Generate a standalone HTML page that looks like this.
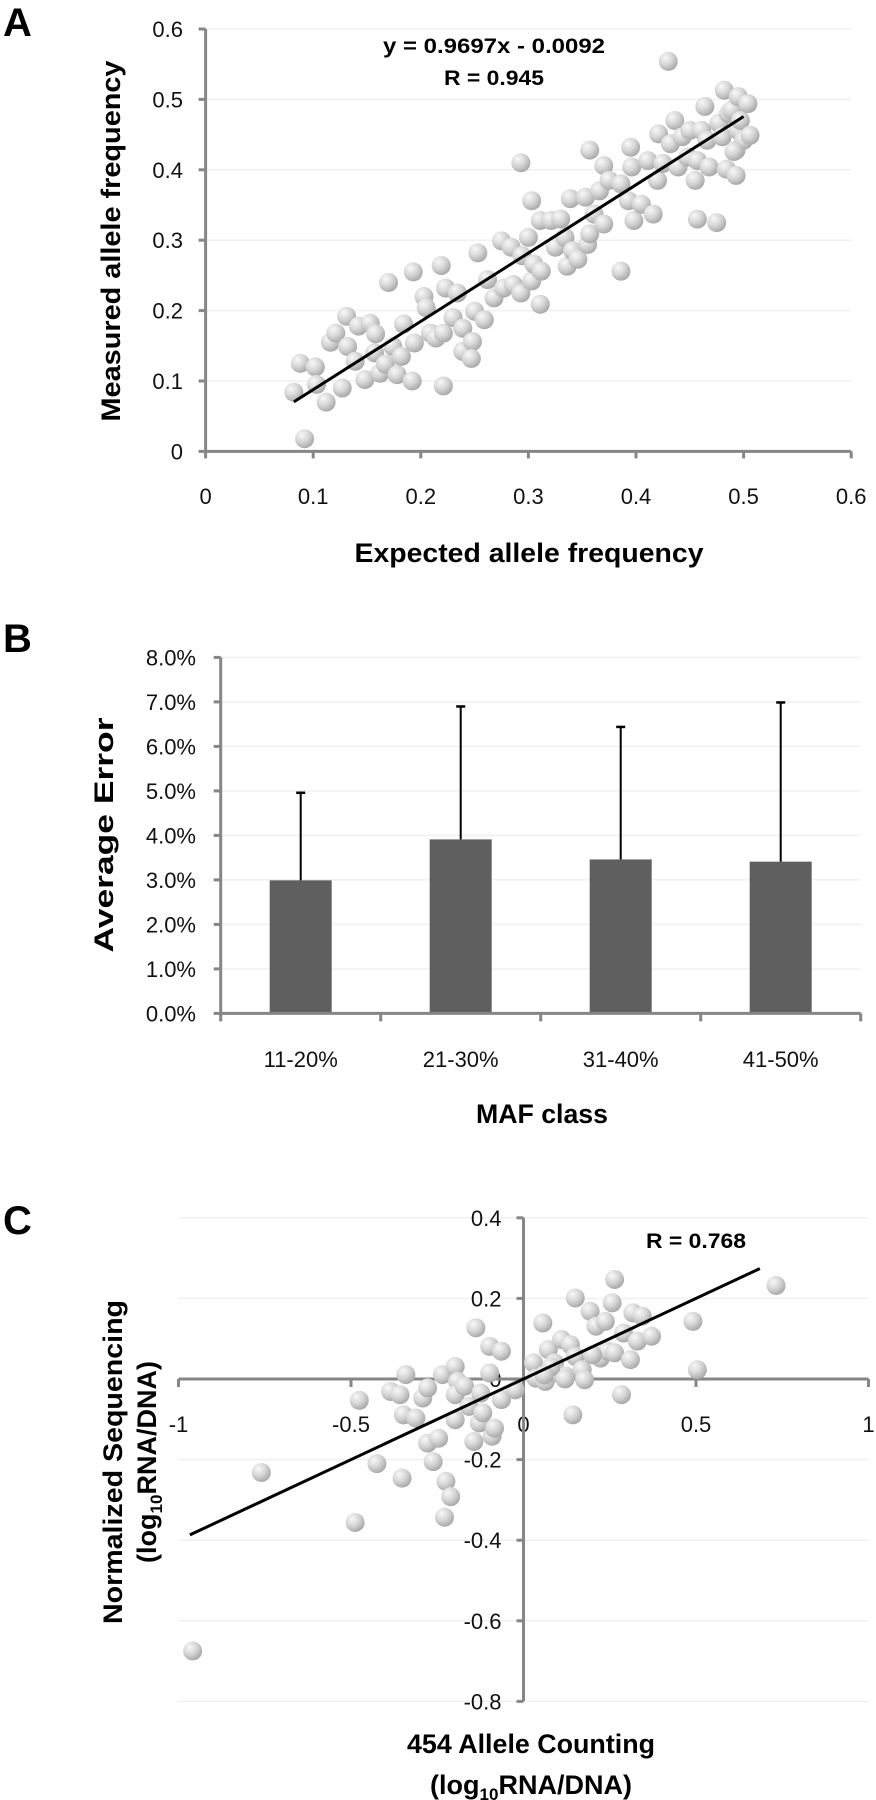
<!DOCTYPE html>
<html><head><meta charset="utf-8"><style>
html,body{margin:0;padding:0;background:#fff;}
svg{display:block;}
text{font-family:"Liberation Sans",sans-serif;}
</style></head><body>
<svg id="fig" width="876" height="1800" viewBox="0 0 876 1800" xmlns="http://www.w3.org/2000/svg">
<defs>
<radialGradient id="ball" cx="0.35" cy="0.3" r="0.75">
<stop offset="0" stop-color="#f8f8f8"/><stop offset="0.5" stop-color="#d6d6d6"/><stop offset="1" stop-color="#a4a4a4"/>
</radialGradient>
</defs>
<g id="pa"></g>
<g id="pb"></g>
<g id="pc"></g>
</svg>
<script>
// ---- Panel A data ----
const aX=[.082,.088,.102,.103,.112,.116,.121,.131,.132,.127,.139,.142,.148,.153,.158,.157,.162,.167,.170,.174,.178,.182,.184,.192,.193,.194,.203,.205,.209,.214,.219,.221,.221,.223,.230,.234,.239,.239,.248,.247,.250,.253,.259,.262,.268,.275,.277,.284,.286,.293,.293,.294,.300,.303,.303,.305,.311,.312,.311,.321,.325,.330,.334,.336,.341,.346,.339,.353,.355,.357,.357,.361,.366,.370,.370,.375,.386,.386,.393,.395,.398,.396,.405,.411,.416,.420,.421,.425,.430,.432,.436,.439,.443,.448,.450,.455,.457,.457,.461,.464,.466,.468,.475,.477,.480,.482,.484,.486,.489,.493,.493,.495,.495,.497,.500,.504,.506,.491,.092];
const aY=[.084,.125,.120,.095,.070,.155,.168,.192,.149,.090,.128,.178,.102,.182,.167,.140,.111,.124,.240,.149,.109,.135,.181,.100,.255,.154,.220,.204,.168,.161,.264,.093,.168,.232,.190,.225,.175,.142,.156,.132,.199,.282,.187,.244,.218,.299,.232,.290,.237,.410,.225,.278,.304,.356,.242,.266,.209,.256,.328,.328,.290,.330,.304,.263,.285,.273,.359,.361,.294,.309,.428,.337,.370,.406,.323,.385,.256,.380,.356,.432,.328,.404,.351,.413,.337,.385,.451,.409,.554,.437,.470,.404,.447,.418,.456,.385,.330,.413,.456,.490,.442,.404,.325,.466,.447,.513,.401,.480,.485,.428,.392,.504,.456,.470,.442,.494,.449,.426,.018];
const aTicksX=[0,0.1,0.2,0.3,0.4,0.5,0.6];
const aTicksY=[0,0.1,0.2,0.3,0.4,0.5,0.6];
const aFit=[0.9697,-0.0092];
const aFitRange=[0.082,0.5];
// ---- Panel B data ----
const bCats=["11-20%","21-30%","31-40%","41-50%"];
const bVals=[2.99,3.91,3.46,3.41];
const bErr=[1.99,3.01,3.00,3.60];
const bTicks=[0,1,2,3,4,5,6,7,8];
// ---- Panel C data ----
const cX=[-.760,-.488,-.476,-.425,-.385,-.358,-.352,-.341,-.348,-.312,-.292,-.278,-.278,-.262,-.246,-.235,-.225,-.211,-.229,-.198,-.191,-.198,-.198,-.171,-.158,-.144,-.138,-.128,-.124,-.118,-.098,-.098,-.091,-.084,-.064,-.064,-.024,.029,.036,.056,.063,.072,.090,.096,.110,.123,.136,.143,.150,.150,.170,.177,.193,.210,.223,.237,.243,.257,.264,.264,.284,.290,.310,.317,.330,.344,.371,.491,.504,.732,-.959,.08,.12,.20,.06];
const cY=[-.232,-.356,-.053,-.210,-.031,-.039,-.246,.011,-.089,-.097,-.047,-.022,-.159,-.205,-.147,.011,-.254,-.292,-.343,.031,-.006,-.039,-.101,-.018,-.068,-.155,.127,-.109,-.035,-.084,.081,.015,-.142,-.122,.069,-.051,-.027,.040,.002,.139,-.006,.073,.040,.015,.098,.007,.085,-.089,.201,.056,.023,-.002,.168,.131,.052,.143,.069,.189,.247,.065,-.039,.114,.048,.164,.094,.156,.106,.143,.023,.232,-.675,.03,.0,.06,.01];
const cTicksX=[-1,-0.5,0,0.5,1];
const cTicksY=[-0.8,-0.6,-0.4,-0.2,0,0.2,0.4];
const cFit=[0.40,0.0];
const cFitRange=[-0.967,0.685];

const NS="http://www.w3.org/2000/svg";
function mk(parent,tag,attrs,txt){const e=document.createElementNS(NS,tag);for(const k in attrs)e.setAttribute(k,attrs[k]);if(txt!==undefined)e.textContent=txt;parent.appendChild(e);return e;}
const AX="#868686";
const TF=22, TT=27, PR=9.5;

// ===== Panel A =====
(function(){
const g=document.getElementById('pa');
const sx=v=>205.6+v*1076, sy=v=>451.4-v*704;
let t=mk(g,'text',{x:3,y:36,'font-size':40,'font-weight':'bold'},'A');


aTicksY.forEach(v=>{
 if(v>0){let l=mk(g,'line',{x1:sx(0),x2:sx(0.6),y1:sy(v),y2:sy(v),stroke:'#f0f0f0','stroke-width':1.5});
 
 }
 let tk=mk(g,'line',{x1:sx(0)-7,x2:sx(0),y1:sy(v),y2:sy(v),stroke:AX,'stroke-width':3});
 
 
 let lb=mk(g,'text',{x:183,y:sy(v)+8,'font-size':TF,'text-anchor':'end',fill:'#111'},String(v));
 
 
});
aTicksX.forEach(v=>{
 let tk=mk(g,'line',{x1:sx(v),x2:sx(v),y1:sy(0),y2:sy(0)+7,stroke:AX,'stroke-width':3});
 
 
 let lb=mk(g,'text',{x:sx(v),y:504,'font-size':TF,'text-anchor':'middle',fill:'#111'},String(v));
 
 
});
let ya=mk(g,'line',{x1:sx(0),x2:sx(0),y1:sy(0.6),y2:sy(0)+1.5,stroke:AX,'stroke-width':3});


let xa=mk(g,'line',{x1:sx(0)-1.5,x2:sx(0.6),y1:sy(0),y2:sy(0),stroke:AX,'stroke-width':3});


aX.forEach((x,i)=>{
 let c=mk(g,'circle',{cx:sx(x),cy:sy(aY[i]),r:PR,fill:'url(#ball)'});
 
 
});
let fl=mk(g,'line',{x1:sx(aFitRange[0]),y1:sy(aFit[0]*aFitRange[0]+aFit[1]),x2:sx(aFitRange[1]),y2:sy(aFit[0]*aFitRange[1]+aFit[1]),stroke:'#000','stroke-width':3});


let e1=mk(g,'text',{x:494,y:53,'font-size':21,'font-weight':'bold','text-anchor':'middle',textLength:222,lengthAdjust:'spacingAndGlyphs'},'y = 0.9697x - 0.0092');


let e2=mk(g,'text',{x:494,y:85,'font-size':21,'font-weight':'bold','text-anchor':'middle',textLength:100,lengthAdjust:'spacingAndGlyphs'},'R = 0.945');


let xt=mk(g,'text',{x:529,y:562,'font-size':TT,'font-weight':'bold','text-anchor':'middle',textLength:349,lengthAdjust:'spacingAndGlyphs'},'Expected allele frequency');


let yt=mk(g,'text',{x:0,y:0,'font-size':TT,'font-weight':'bold','text-anchor':'middle',textLength:361,lengthAdjust:'spacingAndGlyphs',transform:'translate(120,241) rotate(-90)'},'Measured allele frequency');


})();

// ===== Panel B =====
(function(){
const g=document.getElementById('pb');
const x0=220.7,cw=160, sy=v=>1013.4-v*44.5;
let t=mk(g,'text',{x:3,y:652,'font-size':40,'font-weight':'bold'},'B');


bTicks.forEach(v=>{
 if(v>0){let l=mk(g,'line',{x1:x0,x2:x0+cw*4,y1:sy(v),y2:sy(v),stroke:'#f0f0f0','stroke-width':1.5});
 
 }
 let tk=mk(g,'line',{x1:x0-7,x2:x0,y1:sy(v),y2:sy(v),stroke:AX,'stroke-width':3});
 
 
 let lb=mk(g,'text',{x:196,y:sy(v)+8,'font-size':TF,'text-anchor':'end',fill:'#111'},v.toFixed(1)+'%');
 
 
});
for(let i=0;i<=bCats.length;i++){
 let tk=mk(g,'line',{x1:x0+i*cw,x2:x0+i*cw,y1:sy(0),y2:sy(0)+8,stroke:AX,'stroke-width':3});
 
 
}
bCats.forEach((c,i)=>{
 const cx=x0+cw*(i+0.5);
 let r=mk(g,'rect',{x:cx-31,y:sy(bVals[i]),width:62,height:sy(0)-sy(bVals[i]),fill:'#5f5f5f'});
 
 
 const top=sy(bVals[i]+bErr[i]);
 let el=mk(g,'line',{x1:cx,x2:cx,y1:sy(bVals[i]),y2:top,stroke:'#000','stroke-width':2});
 
 
 let cap=mk(g,'line',{x1:cx-4.5,x2:cx+4.5,y1:top+1,y2:top+1,stroke:'#000','stroke-width':2.5});
 
 
 let lb=mk(g,'text',{x:cx,y:1067,'font-size':TF,'text-anchor':'middle',fill:'#111'},c);
 
 
});
let ya=mk(g,'line',{x1:x0,x2:x0,y1:sy(8),y2:sy(0)+1.5,stroke:AX,'stroke-width':3});


let xa=mk(g,'line',{x1:x0-1.5,x2:x0+cw*4,y1:sy(0),y2:sy(0),stroke:AX,'stroke-width':3});


let xt=mk(g,'text',{x:542,y:1123,'font-size':TT,'font-weight':'bold','text-anchor':'middle',textLength:132,lengthAdjust:'spacingAndGlyphs'},'MAF class');


let yt=mk(g,'text',{x:0,y:0,'font-size':TT,'font-weight':'bold','text-anchor':'middle',textLength:235,lengthAdjust:'spacingAndGlyphs',transform:'translate(113,835) rotate(-90)'},'Average Error');


})();

// ===== Panel C =====
(function(){
const g=document.getElementById('pc');
const sx=v=>523.5+v*345, sy=v=>1379-v*403;
let t=mk(g,'text',{x:3,y:1234,'font-size':40,'font-weight':'bold'},'C');


cTicksY.forEach(v=>{
 if(v!==0){let l=mk(g,'line',{x1:sx(-1),x2:sx(1),y1:sy(v),y2:sy(v),stroke:'#f0f0f0','stroke-width':1.5});
 
 }
 let tk=mk(g,'line',{x1:sx(0)-7,x2:sx(0),y1:sy(v),y2:sy(v),stroke:AX,'stroke-width':3});
 
 
 let lb=mk(g,'text',{x:sx(0)-22,y:sy(v)+8,'font-size':TF,'text-anchor':'end',fill:'#111'},String(v));
 
 
});
cTicksX.forEach(v=>{
 let tk=mk(g,'line',{x1:sx(v),x2:sx(v),y1:sy(0),y2:sy(0)+8,stroke:AX,'stroke-width':3});
 
 
 let lb=mk(g,'text',{x:sx(v),y:1432,'font-size':TF,'text-anchor':'middle',fill:'#111'},String(v));
 
 
});
let ya=mk(g,'line',{x1:sx(0),x2:sx(0),y1:sy(0.4),y2:sy(-0.8),stroke:AX,'stroke-width':3});


let xa=mk(g,'line',{x1:sx(-1),x2:sx(1),y1:sy(0),y2:sy(0),stroke:AX,'stroke-width':3});


cX.forEach((x,i)=>{
 let c=mk(g,'circle',{cx:sx(x),cy:sy(cY[i]),r:PR,fill:'url(#ball)'});
 
 
});
let fl=mk(g,'line',{x1:sx(cFitRange[0]),y1:sy(cFit[0]*cFitRange[0]+cFit[1]),x2:sx(cFitRange[1]),y2:sy(cFit[0]*cFitRange[1]+cFit[1]),stroke:'#000','stroke-width':3});


let r=mk(g,'text',{x:696,y:1248,'font-size':21,'font-weight':'bold','text-anchor':'middle',textLength:100,lengthAdjust:'spacingAndGlyphs'},'R = 0.768');


let x1=mk(g,'text',{x:531,y:1753,'font-size':TT,'font-weight':'bold','text-anchor':'middle',textLength:248,lengthAdjust:'spacingAndGlyphs'},'454 Allele Counting');


let x2=mk(g,'text',{x:531,y:1794,'font-size':TT,'font-weight':'bold','text-anchor':'middle'});


x2.innerHTML='(log<tspan font-size="17" dy="6">10</tspan><tspan dy="-6">RNA/DNA)</tspan>';
let y1=mk(g,'text',{x:0,y:0,'font-size':TT,'font-weight':'bold','text-anchor':'middle',textLength:324,lengthAdjust:'spacingAndGlyphs',transform:'translate(122,1462) rotate(-90)'},'Normalized Sequencing');


let y2=mk(g,'text',{x:0,y:0,'font-size':TT,'font-weight':'bold','text-anchor':'middle',transform:'translate(156,1462) rotate(-90)'});


y2.innerHTML='(log<tspan font-size="17" dy="6">10</tspan><tspan dy="-6">RNA/DNA)</tspan>';
})();
</script>
</body></html>
